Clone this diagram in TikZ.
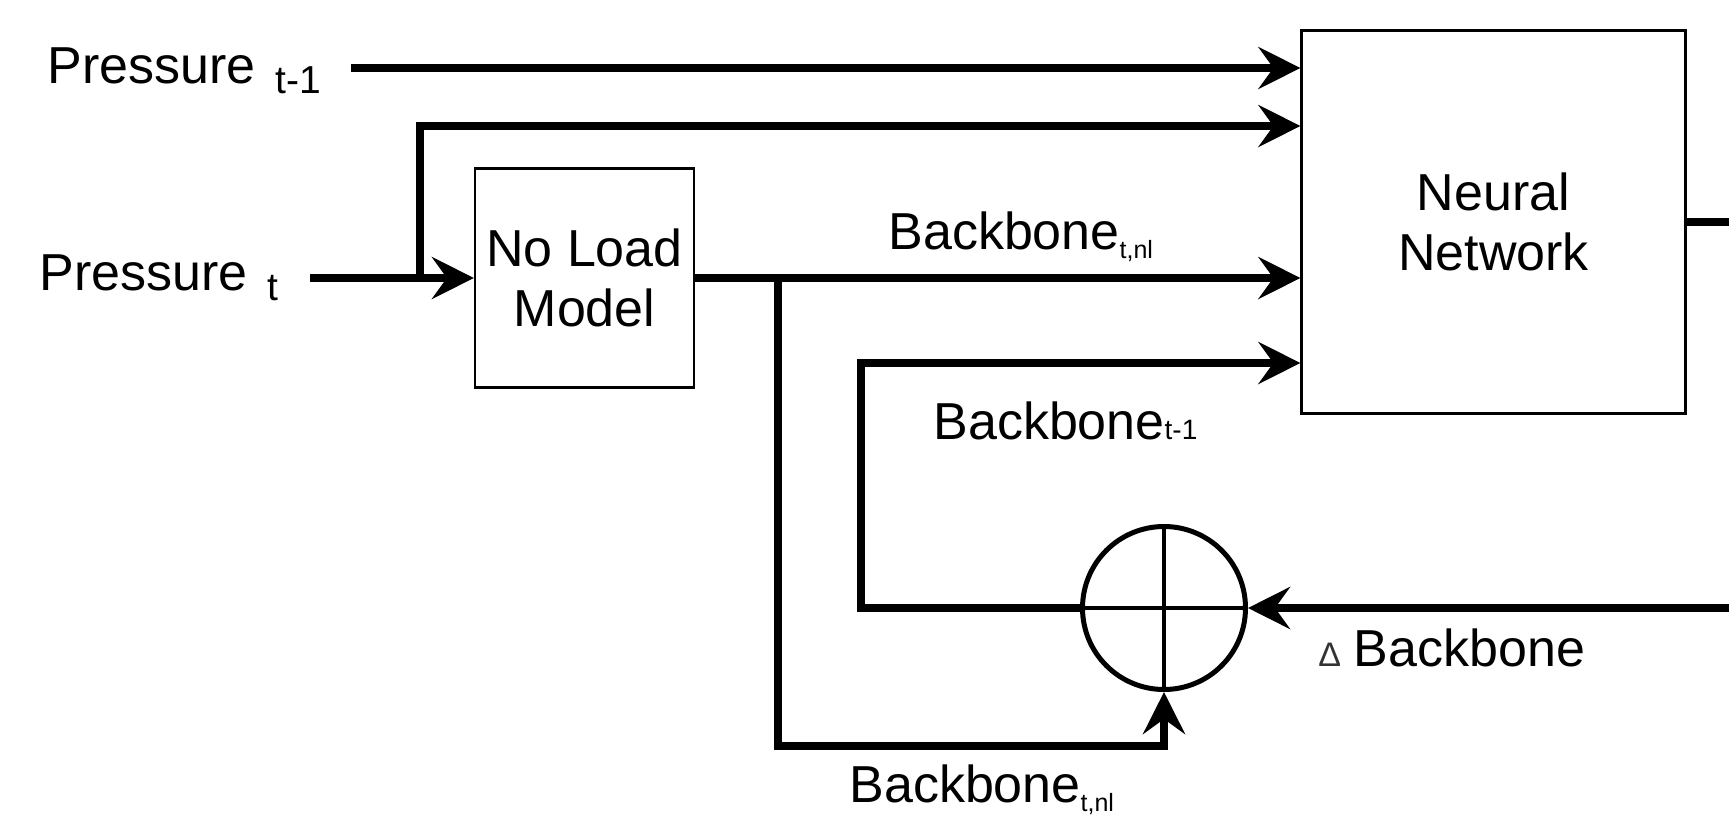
\documentclass[tikz,border=0pt]{standalone}
\usepackage{fontspec}
\setmainfont{Liberation Sans}
\usetikzlibrary{arrows.meta}
\definecolor{deltagrey}{HTML}{333333}

\begin{document}
\begin{tikzpicture}[x=0.5pt,y=-0.5pt,
  wire/.style={line width=4pt, line join=miter, line cap=butt},
  arr/.style={wire, -{Stealth[length=21pt,width=21pt,inset=7.5pt]}},
  blockbox/.style={draw, line width=1.1pt, inner sep=0pt, align=center,
                   font=\fontsize{26}{30}\selectfont},
  lbl/.style={anchor=base west, inner sep=0pt, font=\fontsize{26}{30}\selectfont},
]
\useasboundingbox (0,0) rectangle (1729,819);

% blocks
\node[blockbox, minimum width=192pt, minimum height=191.5pt] (nn) at (1493.5,222) {Neural\\Network};
\node[blockbox, minimum size=109.5pt] (nl) at (584.5,278) {No Load\\Model};
\node[circle, draw, line width=2.5pt, minimum size=81.5pt, inner sep=0pt] (sum) at (1164,608) {};
\draw[line width=2.3pt] (sum.north) -- (sum.south) (sum.west) -- (sum.east);

% free ends and bends of the wires
\coordinate (p1s) at (351,68);
\coordinate (p2s) at (310,278);
\coordinate (j1) at (420,278);
\coordinate (tap) at (420,126);
\coordinate (j2) at (778,278);
\coordinate (j3) at (778,746);
\coordinate (j4) at (861,363);
\coordinate (dsrc) at (1729,608);
\coordinate (out) at (1729,222);

% wires
\draw[arr] (p1s) -- (nn.west |- p1s);
\draw[arr] (p2s) -- (nl.west |- p2s);
\draw[arr] (j1) -- (tap) -- (nn.west |- tap);
\draw[arr] (nl.east) -- (nn.west |- nl.east);
\draw[arr] (j2) -- (j3) -| (sum.south);
\draw[arr] (sum.west) -| (j4) -- (nn.west |- j4);
\draw[arr] (dsrc) -- (sum.east);
\draw[wire] (nn.east) -- (out);

% labels
\node[lbl] (lp1) at (47,83) {Pressure\hspace{10pt}\raisebox{-5.5pt}{\fontsize{19.5}{20}\selectfont t-1}};
\node[lbl] (lp2) at (39,290) {Pressure\hspace{10pt}\raisebox{-5pt}{\fontsize{19.5}{20}\selectfont t}};
\node[lbl] (lb1) at (888,249) {Backbone\raisebox{-4.5pt}{\fontsize{12.5}{12}\selectfont t,nl}};
\node[lbl] (lb2) at (933,439) {Backbone{\fontsize{14}{14}\selectfont t-1}};
\node[lbl] (lb3) at (849,802) {Backbone\raisebox{-4.5pt}{\fontsize{12.5}{12}\selectfont t,nl}};
\node[lbl] (ld) at (1318,666) {{\color{deltagrey}\fontsize{17}{17}\selectfont Δ}\hspace{6.4pt}Backbone};
\end{tikzpicture}
\end{document}
